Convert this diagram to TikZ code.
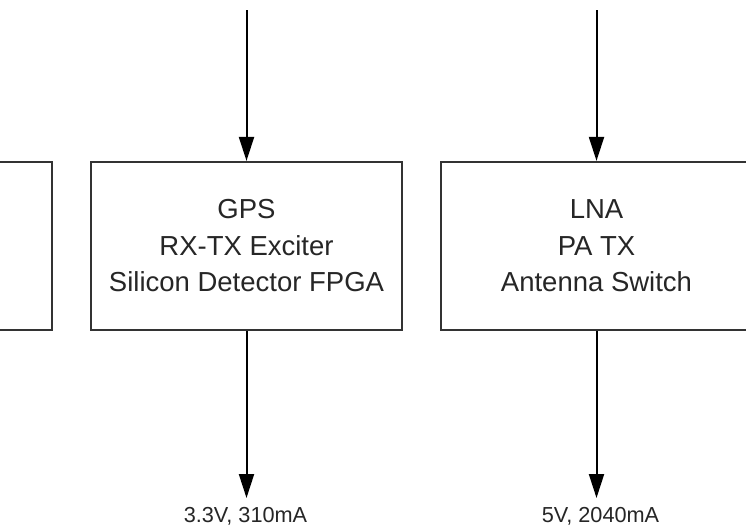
\documentclass[tikz,border=0pt]{standalone}
\usepackage{fontspec}
\setmainfont{Liberation Sans}
\usetikzlibrary{arrows.meta}
\tikzset{
  blockbox/.style={draw=black!80, line width=2.2pt, minimum width=311pt, minimum height=168pt,
    inner sep=0pt, align=center, font=\fontsize{27.5}{36.5}\selectfont, text=black!85},
  flow/.style={draw=black, line width=2pt, -{Triangle[length=24pt,width=15pt]}},
  vlabel/.style={font=\fontsize{21.7}{24}\selectfont, text=black!85, inner sep=0pt}
}
\begin{document}
\begin{tikzpicture}[x=1pt,y=-1pt]
\useasboundingbox (0,0) rectangle (746,531);
\clip (0,0) rectangle (746,531);
\fill[white] (0,0) rectangle (746,531);
\node[blockbox] (left) at (-103.5,246) {};
\node[blockbox] (mid) at (246.5,246) {GPS\\RX-TX Exciter\\Silicon Detector FPGA};
\node[blockbox] (right) at (596.5,246) {LNA\\PA TX\\Antenna Switch};
\coordinate (intop) at (246.5,10);
\coordinate (rintop) at (596.5,10);
\coordinate (outmid) at (246.5,498);
\coordinate (outright) at (596.5,498);
\draw[flow] (intop) -- (mid.north);
\draw[flow] (rintop) -- (right.north);
\draw[flow] (mid.south) -- (outmid);
\draw[flow] (right.south) -- (outright);
\node[vlabel, anchor=base] (lmid) at (245.5,522) {3.3V, 310mA};
\node[vlabel, anchor=base] (lright) at (600.5,522) {5V, 2040mA};
\end{tikzpicture}
\end{document}
